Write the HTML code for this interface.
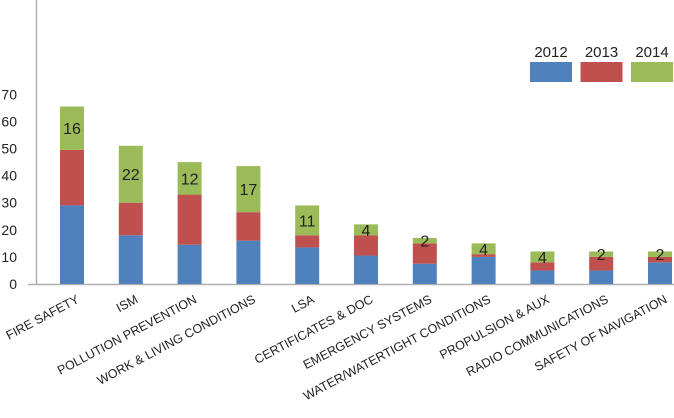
<!DOCTYPE html>
<html><head><meta charset="utf-8"><style>
html,body{margin:0;padding:0;background:#fff;}
svg{display:block;font-family:"Liberation Sans",sans-serif;}
</style></head><body>
<svg id="chart" width="674" height="418" viewBox="0 0 674 418" xmlns="http://www.w3.org/2000/svg">
<g id="axes"></g><g id="bars"></g><g id="legend"></g>
</svg>
<script>
const categories = ["FIRE SAFETY","ISM","POLLUTION PREVENTION","WORK & LIVING CONDITIONS","LSA","CERTIFICATES & DOC","EMERGENCY SYSTEMS","WATER/WATERTIGHT CONDITIONS","PROPULSION & AUX","RADIO COMMUNICATIONS","SAFETY OF NAVIGATION"];
const s2012 = [29,18,14.5,16,13.5,10.5,7.5,10,5,5,8];
const s2013 = [20.5,12,18.5,10.5,4.5,7.5,7.5,1,3,5,2];
const s2014 = [16,21,12,17,11,4,2,4,4,2,2];
const labels2014 = [16,22,12,17,11,4,2,4,4,2,2];
const yTicks = [0,10,20,30,40,50,60,70];
const seriesNames = ["2012","2013","2014"];
const colors = ["#4f81bd","#c0504d","#9bbb59"];

const NS="http://www.w3.org/2000/svg";
const y0=284, pxPer=2.71;
function yScale(v){return y0 - v*pxPer;}
function xCenter(i){return 72 + i*58.8;}
const barW=24;
function mk(tag,attrs,parent){const e=document.createElementNS(NS,tag);for(const k in attrs)e.setAttribute(k,attrs[k]);parent.appendChild(e);return e;}
const axes=document.getElementById('axes'), bars=document.getElementById('bars'), legend=document.getElementById('legend');

let l=mk('line',{x1:36.5,y1:0,x2:36.5,y2:y0+0.5,stroke:'#b0b0b0','stroke-width':1.5},axes);


l=mk('line',{x1:28,y1:y0+0.5,x2:674,y2:y0+0.5,stroke:'#b0b0b0','stroke-width':1.5},axes);


yTicks.forEach(t=>{
  const tx=mk('text',{x:17,y:yScale(t)+5,'text-anchor':'end','font-size':14,fill:'#222'},axes);
  tx.textContent=t;
  
  
});
const series=[s2012,s2013,s2014];
categories.forEach((c,i)=>{
  const cx=xCenter(i); let base=0;
  series.forEach((s,k)=>{
    const top=base+s[i];
    const r=mk('rect',{x:cx-barW/2,y:yScale(top),width:barW,height:yScale(base)-yScale(top),fill:colors[k]},bars);
    
    
    if(k===2){
      const mid=(yScale(base)+yScale(top))/2;
      const t=mk('text',{x:cx,y:mid+6,'text-anchor':'middle','font-size':16,fill:'#222'},bars);
      t.textContent=labels2014[i];
      
      
    }
    base=top;
  });
  const lx=cx+8, ly=302;
  const t=mk('text',{x:lx,y:ly,'text-anchor':'end','font-size':12.5,fill:'#222',transform:`rotate(-28 ${lx} ${ly})`},axes);
  t.textContent=c;
  
  
});
seriesNames.forEach((n,k)=>{
  const x=530+k*50.5;
  const r=mk('rect',{x:x,y:62,width:42,height:20,fill:colors[k]},legend);
  
  
  const t=mk('text',{x:x+21,y:57,'text-anchor':'middle','font-size':15,fill:'#222'},legend);
  t.textContent=n;
  
  
});
</script>
</body></html>
